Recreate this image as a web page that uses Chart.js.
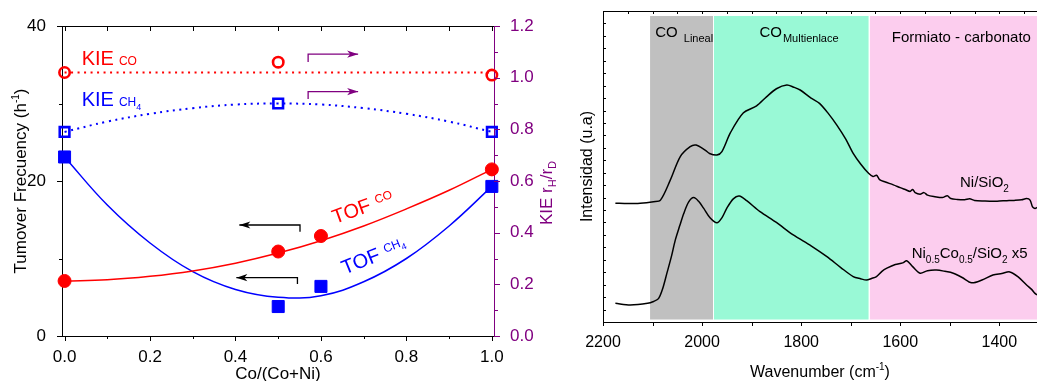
<!DOCTYPE html>
<html>
<head>
<meta charset="utf-8">
<title>TOF / KIE and DRIFTS</title>
<script src="https://cdn.jsdelivr.net/npm/chart.js"></script>
<style>
  body { margin: 0; background: #fff; }
  #wrap { position: relative; width: 1037px; height: 381px; overflow: hidden; }
  #tof { position: absolute; left: 0; top: 0; }
  #ir { position: absolute; left: 560px; top: 0; }
</style>
</head>
<body>
<div id="wrap">
  <canvas id="tof" width="560" height="381"></canvas>
  <canvas id="ir" width="477" height="381"></canvas>
</div>
<script>
// ---- left panel: TOF and KIE vs Co/(Co+Ni) ----
const ratio = [0, 0.5, 0.6, 1.0];
const tofCO = [7.1, 10.9, 12.9, 21.5];
const tofCH4 = [23.1, 3.8, 6.4, 19.3];
const kieX = [0, 0.5, 1.0];
const kieCO = [1.02, 1.06, 1.01];
const kieCH4 = [0.79, 0.90, 0.79];

// fitted curves
const fitX = [0, 0.1, 0.2, 0.3, 0.4, 0.5, 0.6, 0.7, 0.8, 0.9, 1.0];
const fitCO = [7.1, 7.25, 7.7, 8.4, 9.4, 10.7, 12.3, 14.2, 16.4, 18.8, 21.5];
const fitCH4 = [23.1, 16.9, 12.0, 8.3, 6.0, 5.0, 5.2, 7.0, 10.0, 14.2, 19.3];
const fitKieCH4 = [0.79, 0.83, 0.86, 0.882, 0.896, 0.90, 0.896, 0.882, 0.86, 0.83, 0.79];
const levelX = [0, 1.0];
const levelKieCO = [1.02, 1.02];

const ratioTicks = [0, 0.2, 0.4, 0.6, 0.8, 1.0];
const ratioMinor = [0.1, 0.3, 0.5, 0.7, 0.9];
const tofTicks = [0, 20, 40];
const tofMinor = [10, 30];
const kieTicks = [0, 0.2, 0.4, 0.6, 0.8, 1.0, 1.2];
const kieMinor = [0.1, 0.3, 0.5, 0.7, 0.9, 1.1];

// ---- right panel: IR spectra ----
const niWave = [2175, 2150, 2125, 2098, 2084, 2064, 2044, 2024, 2012, 1994, 1985, 1970, 1960, 1943, 1917, 1890, 1870, 1850, 1829, 1815, 1802, 1780, 1763, 1745, 1728, 1710, 1695, 1680, 1664, 1655, 1648, 1641, 1630, 1614, 1600, 1590, 1580, 1575, 1570, 1560, 1552, 1545, 1530, 1515, 1505, 1498, 1485, 1470, 1460, 1450, 1430, 1413, 1400, 1385, 1370, 1355, 1345, 1338, 1333, 1328, 1324];
const niInt = [38.2, 38.1, 38.2, 38.7, 39.2, 45.7, 53.2, 56.4, 56.9, 55.3, 54.2, 53.7, 54.8, 60.8, 67.2, 69.5, 72.4, 75.0, 76.2, 75.5, 74.6, 72.0, 70.3, 67.0, 63.3, 58.8, 54.2, 50.8, 47.8, 46.8, 47.2, 45.7, 45.0, 44.1, 43.2, 42.6, 42.0, 42.6, 41.6, 41.1, 41.6, 40.8, 40.3, 40.0, 40.6, 39.7, 39.4, 39.3, 39.6, 39.1, 38.9, 38.8, 38.9, 39.0, 39.1, 39.3, 39.7, 39.2, 37.0, 36.5, 36.8];
const nicoWave = [2175, 2145, 2110, 2098, 2088, 2080, 2071, 2062, 2054, 2045, 2037, 2027, 2017, 2007, 1997, 1984, 1970, 1960, 1950, 1937, 1925, 1910, 1883, 1850, 1816, 1780, 1748, 1720, 1695, 1680, 1668, 1658, 1648, 1637, 1627, 1610, 1595, 1587, 1575, 1560, 1545, 1527, 1510, 1493, 1475, 1456, 1435, 1413, 1395, 1379, 1362, 1345, 1335, 1328, 1324];
const nicoInt = [6.0, 5.5, 6.0, 6.6, 7.5, 10.5, 15.7, 21.0, 26.4, 31.0, 34.9, 38.6, 40.0, 38.8, 36.6, 33.5, 31.9, 33.5, 36.6, 39.6, 40.5, 39.0, 35.5, 32.0, 28.0, 24.5, 21.0, 17.5, 14.6, 13.9, 13.5, 14.0, 14.6, 16.3, 17.3, 18.5, 19.0, 19.7, 17.8, 15.7, 16.5, 16.7, 16.3, 15.7, 14.3, 12.6, 13.5, 15.1, 15.6, 16.1, 14.5, 11.9, 10.5, 9.2, 8.7];

const bandFrom = [2105, 1976, 1661];
const bandTo = [1978, 1664, 1324];
const bandColor = ['#c0c0c0', '#99f9d6', '#fccdee'];

const waveTicks = [2200, 2000, 1800, 1600, 1400];
const waveMinor = [2100, 1900, 1700, 1500];
const waveTop = [2150, 2100, 2050, 2000, 1950, 1900, 1850, 1800, 1750, 1700, 1650, 1600, 1550, 1500, 1450, 1400, 1350];
const intMinor = [4, 8, 12, 16, 20, 24, 28, 32, 36, 40, 44, 48, 52, 56, 60, 64, 68, 72, 76, 80, 84, 88, 92, 96];

const RED = '#ff0000', BLUE = '#0000ff', PURPLE = '#800080';
const FONT = '"Liberation Sans", Arial, sans-serif';
Chart.defaults.font.family = FONT;

const pts = (xs, ys) => xs.map((x, i) => ({x: x, y: ys[i]}));

function tickMarks(ctx, scale, values, edge, dir, len, color) {
  ctx.save();
  ctx.strokeStyle = color;
  ctx.lineWidth = 1;
  ctx.beginPath();
  for (const v of values) {
    const p = Math.round(scale.getPixelForValue(v)) + 0.5;
    if (scale.isHorizontal()) { ctx.moveTo(p, edge); ctx.lineTo(p, edge + dir * len); }
    else { ctx.moveTo(edge, p); ctx.lineTo(edge + dir * len, p); }
  }
  ctx.stroke();
  ctx.restore();
}

// text made of pieces: {t, s (size), dy, gap}
function richWidth(ctx, parts) {
  let w = 0;
  for (const p of parts) { ctx.font = p.s + 'px ' + FONT; w += ctx.measureText(p.t).width + (p.gap || 0); }
  return w;
}
function richText(ctx, x, y, parts, color, center) {
  ctx.save();
  ctx.fillStyle = color;
  ctx.textAlign = 'left';
  ctx.textBaseline = 'alphabetic';
  let cx = center ? x - richWidth(ctx, parts) / 2 : x;
  for (const p of parts) {
    ctx.font = p.s + 'px ' + FONT;
    cx += (p.gap || 0);
    ctx.fillText(p.t, cx, y + (p.dy || 0));
    cx += ctx.measureText(p.t).width;
  }
  ctx.restore();
}
function rotText(ctx, x, y, deg, parts, color, center) {
  ctx.save();
  ctx.translate(x, y);
  ctx.rotate(deg * Math.PI / 180);
  richText(ctx, 0, 0, parts, color, center);
  ctx.restore();
}
function bracketArrow(ctx, x0, y0, x1, y1, yTick, color) {
  // line from (x0,y0) to tip (x1,y1), small drop at x0
  ctx.save();
  ctx.strokeStyle = color; ctx.fillStyle = color; ctx.lineWidth = 1.3;
  ctx.beginPath();
  ctx.moveTo(x0, yTick); ctx.lineTo(x0, y0); ctx.lineTo(x1, y1);
  ctx.stroke();
  const d = Math.sign(x1 - x0);
  ctx.beginPath();
  ctx.moveTo(x1, y1);
  ctx.lineTo(x1 - d * 11, y1 - 3.6);
  ctx.lineTo(x1 - d * 8, y1);
  ctx.lineTo(x1 - d * 11, y1 + 3.6);
  ctx.closePath();
  ctx.fill();
  ctx.restore();
}

const tofDecor = {
  id: 'tofDecor',
  afterDatasetsDraw(chart) {
    const ctx = chart.ctx, x = chart.scales.x, y = chart.scales.y, y2 = chart.scales.y2;
    // labels
    richText(ctx, x.getPixelForValue(0.04), y.getPixelForValue(35.0),
      [{t: 'KIE', s: 20}, {t: 'CO', s: 12, gap: 5}], RED);
    richText(ctx, x.getPixelForValue(0.04), y.getPixelForValue(29.7),
      [{t: 'KIE', s: 20}, {t: 'CH', s: 12, gap: 5}, {t: '4', s: 9, dy: 4}], BLUE);
    rotText(ctx, x.getPixelForValue(0.633), y.getPixelForValue(14.45), -20,
      [{t: 'TOF', s: 20}, {t: 'CO', s: 12, gap: 6, dy: -5}], RED);
    rotText(ctx, x.getPixelForValue(0.656), y.getPixelForValue(7.9), -22,
      [{t: 'TOF', s: 20}, {t: 'CH', s: 12, gap: 6, dy: -5}, {t: '4', s: 9, dy: -1}], BLUE);
    // arrows toward the axis each group belongs to
    bracketArrow(ctx, x.getPixelForValue(0.551), y.getPixelForValue(14.32), x.getPixelForValue(0.409), y.getPixelForValue(14.32), y.getPixelForValue(13.46), '#000');
    bracketArrow(ctx, x.getPixelForValue(0.545), y.getPixelForValue(7.52), x.getPixelForValue(0.402), y.getPixelForValue(7.52), y.getPixelForValue(6.71), '#000');
    bracketArrow(ctx, x.getPixelForValue(0.570), y2.getPixelForValue(1.091), x.getPixelForValue(0.687), y2.getPixelForValue(1.091), y2.getPixelForValue(1.061), PURPLE);
    bracketArrow(ctx, x.getPixelForValue(0.570), y2.getPixelForValue(0.946), x.getPixelForValue(0.687), y2.getPixelForValue(0.946), y2.getPixelForValue(0.917), PURPLE);
  },
  afterDraw(chart) {
    const ctx = chart.ctx, a = chart.chartArea, x = chart.scales.x, y = chart.scales.y, y2 = chart.scales.y2;
    // top frame line with inward ticks
    ctx.save();
    ctx.strokeStyle = '#000'; ctx.lineWidth = 1;
    ctx.beginPath(); ctx.moveTo(a.left, a.top + 0.5); ctx.lineTo(a.right, a.top + 0.5); ctx.stroke();
    ctx.restore();
    tickMarks(ctx, x, ratioTicks.concat(ratioMinor), a.top, 1, 5, '#000');
    tickMarks(ctx, x, ratioTicks, a.bottom, 1, 5, '#000');
    tickMarks(ctx, x, ratioMinor, a.bottom, 1, 3, '#000');
    tickMarks(ctx, y, tofTicks, a.left, -1, 5, '#000');
    tickMarks(ctx, y, tofMinor, a.left, -1, 3, '#000');
    tickMarks(ctx, y2, kieTicks, a.right, 1, 6, PURPLE);
    tickMarks(ctx, y2, kieMinor, a.right, 1, 4, PURPLE);
    // axis titles
    richText(ctx, (a.left + a.right) / 2, 379, [{t: 'Co/(Co+Ni)', s: 17}], '#000', true);
    rotText(ctx, 26, (a.top + a.bottom) / 2, -90,
      [{t: 'Tumover Frecuency (h', s: 17}, {t: '-1', s: 10, dy: -7}, {t: ')', s: 17}], '#000', true);
    rotText(ctx, 552, 193, -90,
      [{t: 'KIE r', s: 17}, {t: 'H', s: 11, dy: 4}, {t: '/r', s: 17}, {t: 'D', s: 11, dy: 4}], PURPLE, true);
  }
};

new Chart(document.getElementById('tof'), {
  type: 'scatter',
  data: {
    datasets: [
      {data: pts(ratio, tofCO), yAxisID: 'y', pointStyle: 'circle', pointRadius: 6.5, backgroundColor: RED, borderColor: RED, borderWidth: 1, clip: false},
      {data: pts(ratio, tofCH4), yAxisID: 'y', pointStyle: 'rect', pointRadius: 8.5, backgroundColor: BLUE, borderColor: BLUE, borderWidth: 1, clip: false},
      {data: pts(kieX, kieCO), yAxisID: 'y2', pointStyle: 'circle', pointRadius: 5.2, backgroundColor: 'rgba(0,0,0,0)', borderColor: RED, borderWidth: 2.6, clip: false},
      {data: pts(kieX, kieCH4), yAxisID: 'y2', pointStyle: 'rect', pointRadius: 6.8, backgroundColor: 'rgba(0,0,0,0)', borderColor: BLUE, borderWidth: 2.6, clip: false},
      {data: pts(fitX, fitCO), yAxisID: 'y', showLine: true, pointRadius: 0, borderColor: RED, borderWidth: 1.5, tension: 0.4},
      {data: pts(fitX, fitCH4), yAxisID: 'y', showLine: true, pointRadius: 0, borderColor: BLUE, borderWidth: 1.5, tension: 0.4},
      {data: pts(levelX, levelKieCO), yAxisID: 'y2', showLine: true, pointRadius: 0, borderColor: RED, borderWidth: 2, borderDash: [2, 4.5]},
      {data: pts(fitX, fitKieCH4), yAxisID: 'y2', showLine: true, pointRadius: 0, borderColor: BLUE, borderWidth: 2, borderDash: [2, 4.5], tension: 0.4}
    ]
  },
  options: {
    responsive: false,
    animation: false,
    layout: {padding: {top: 26, left: 0, right: 0, bottom: 0}},
    plugins: {legend: {display: false}, tooltip: {enabled: false}},
    scales: {
      x: {
        type: 'linear', position: 'bottom', min: -0.006, max: 1.005,
        afterBuildTicks: s => { s.ticks = ratioTicks.map(v => ({value: v})); },
        afterFit: s => { s.height = 45; },
        grid: {display: false},
        border: {display: true, color: '#000', width: 1},
        ticks: {color: '#000', font: {size: 17}, padding: 3, maxRotation: 0, autoSkip: false, callback: v => v.toFixed(1)}
      },
      y: {
        position: 'left', min: 0, max: 40,
        afterBuildTicks: s => { s.ticks = tofTicks.map(v => ({value: v})); },
        afterFit: s => { s.width = 62; },
        grid: {display: false},
        border: {display: true, color: '#000', width: 1},
        ticks: {color: '#000', font: {size: 17}, padding: 8, callback: v => String(v)}
      },
      y2: {
        position: 'right', min: 0, max: 1.2,
        afterBuildTicks: s => { s.ticks = kieTicks.map(v => ({value: v})); },
        afterFit: s => { s.width = 66; },
        grid: {display: false},
        border: {display: true, color: PURPLE, width: 1},
        ticks: {color: PURPLE, font: {size: 17}, padding: 8, callback: v => v.toFixed(1)}
      }
    }
  },
  plugins: [tofDecor]
});

const irDecor = {
  id: 'irDecor',
  beforeDatasetsDraw(chart) {
    const ctx = chart.ctx, x = chart.scales.x, y = chart.scales.y;
    const top = y.getPixelForValue(98.4), bottom = y.getPixelForValue(0.8);
    ctx.save();
    bandFrom.forEach((w, i) => {
      const xa = x.getPixelForValue(w), xb = x.getPixelForValue(bandTo[i]);
      ctx.fillStyle = bandColor[i];
      ctx.fillRect(xa, top, xb - xa, bottom - top);
    });
    ctx.restore();
  },
  afterDatasetsDraw(chart) {
    const ctx = chart.ctx, x = chart.scales.x, y = chart.scales.y;
    richText(ctx, x.getPixelForValue(2094.5), y.getPixelForValue(91.7), [{t: 'CO', s: 15}, {t: 'Lineal', s: 11, gap: 6, dy: 5}], '#000');
    richText(ctx, x.getPixelForValue(1884.2), y.getPixelForValue(91.7), [{t: 'CO', s: 15}, {t: 'Multienlace', s: 11, gap: 1, dy: 5}], '#000');
    richText(ctx, x.getPixelForValue(1617.2), y.getPixelForValue(90.1), [{t: 'Formiato - carbonato', s: 15}], '#000');
    richText(ctx, x.getPixelForValue(1479.5), y.getPixelForValue(43.5), [{t: 'Ni/SiO', s: 15}, {t: '2', s: 10, dy: 5}], '#000');
    richText(ctx, x.getPixelForValue(1576.9), y.getPixelForValue(20.5),
      [{t: 'Ni', s: 15}, {t: '0.5', s: 10, dy: 5}, {t: 'Co', s: 15}, {t: '0.5', s: 10, dy: 5},
       {t: '/SiO', s: 15}, {t: '2', s: 10, dy: 5}, {t: ' x5', s: 15}], '#000');
  },
  afterDraw(chart) {
    const ctx = chart.ctx, a = chart.chartArea, x = chart.scales.x, y = chart.scales.y;
    ctx.save();
    ctx.strokeStyle = '#000'; ctx.lineWidth = 1;
    ctx.beginPath(); ctx.moveTo(a.left, a.top + 0.5); ctx.lineTo(a.right, a.top + 0.5); ctx.stroke();
    ctx.restore();
    tickMarks(ctx, x, waveTicks.concat(waveMinor), a.bottom, 1, 4, '#000');
    tickMarks(ctx, x, waveTop, a.top, 1, 3, '#000');
    tickMarks(ctx, y, intMinor, a.left, 1, 3, '#000');
    richText(ctx, (a.left + a.right) / 2, 377,
      [{t: 'Wavenumber (cm', s: 16}, {t: '-1', s: 10, dy: -7}, {t: ')', s: 16}], '#000', true);
    rotText(ctx, 32, (a.top + a.bottom) / 2, -90, [{t: 'Intensidad (u.a)', s: 16}], '#000', true);
  }
};

new Chart(document.getElementById('ir'), {
  type: 'scatter',
  data: {
    datasets: [
      {data: pts(niWave, niInt), showLine: true, pointRadius: 0, borderColor: '#000', borderWidth: 1.5, tension: 0.3},
      {data: pts(nicoWave, nicoInt), showLine: true, pointRadius: 0, borderColor: '#000', borderWidth: 1.5, tension: 0.3}
    ]
  },
  options: {
    responsive: false,
    animation: false,
    layout: {padding: {top: 11, left: 0, right: 0, bottom: 0}},
    plugins: {legend: {display: false}, tooltip: {enabled: false}},
    scales: {
      x: {
        type: 'linear', position: 'bottom', min: 1324, max: 2200, reverse: true,
        afterBuildTicks: s => { s.ticks = waveTicks.map(v => ({value: v})); },
        afterFit: s => { s.height = 59; },
        grid: {display: false},
        border: {display: true, color: '#000', width: 1},
        ticks: {color: '#000', font: {size: 16}, padding: 3, maxRotation: 0, autoSkip: false, callback: v => String(v)}
      },
      y: {
        position: 'left', min: 0, max: 100,
        afterFit: s => { s.width = 43; },
        grid: {display: false},
        border: {display: true, color: '#000', width: 1},
        ticks: {display: false}
      }
    }
  },
  plugins: [irDecor]
});
</script>
</body>
</html>
